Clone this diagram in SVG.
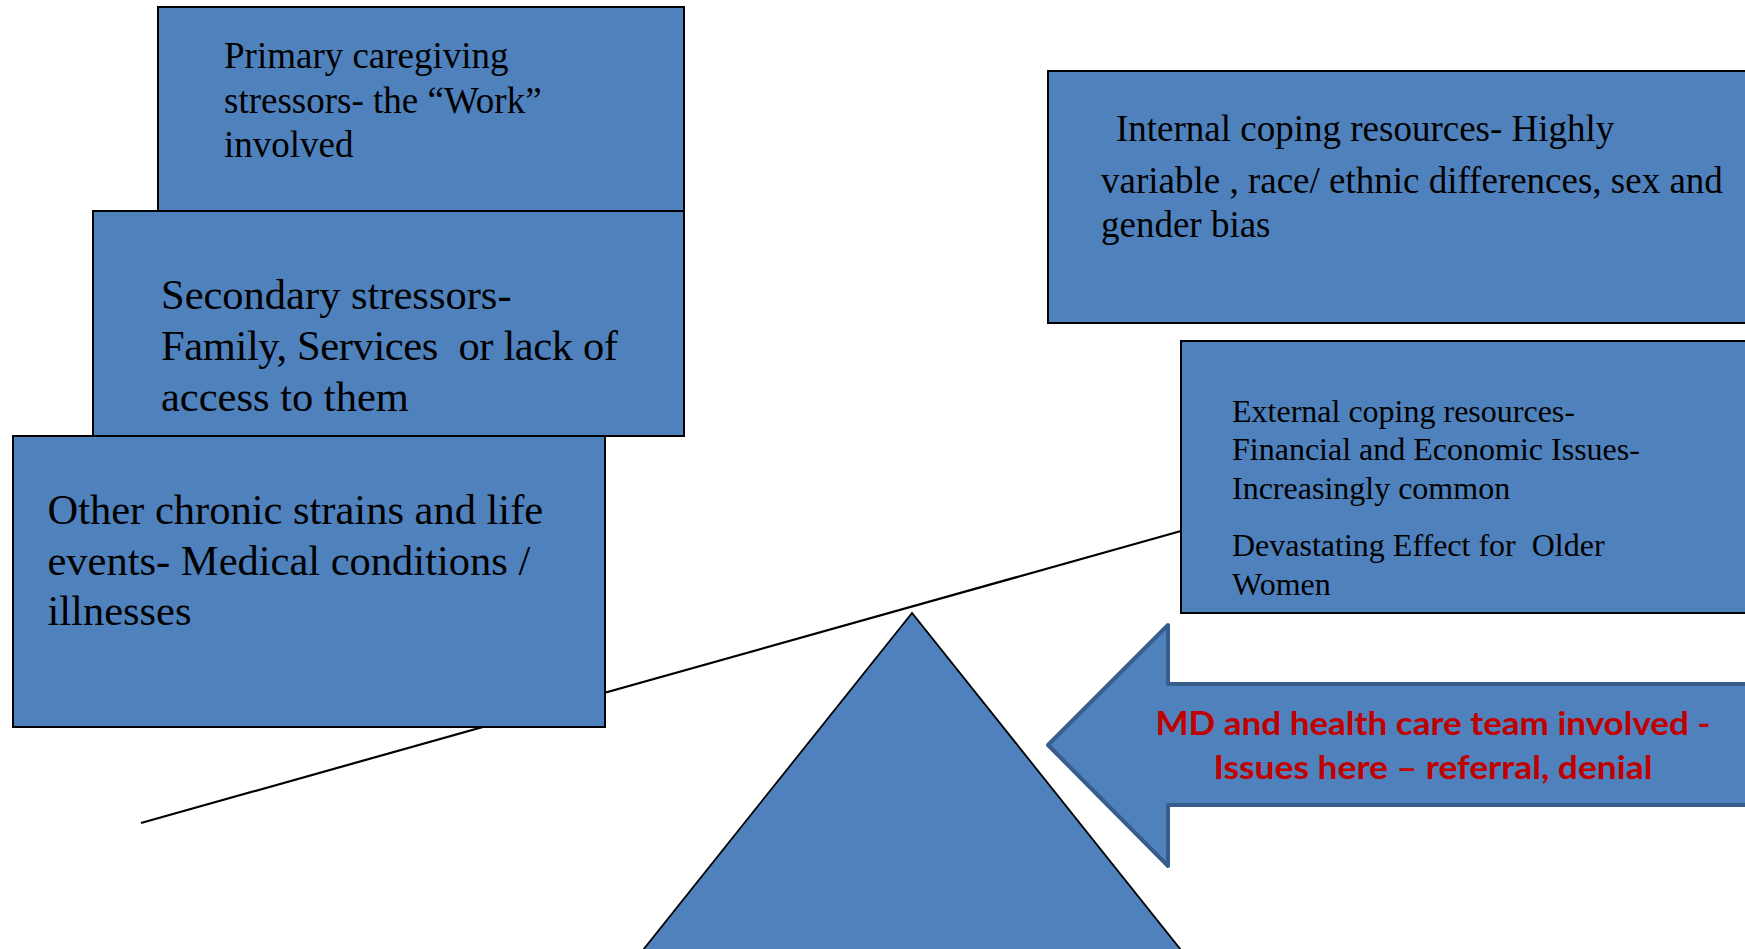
<svg xmlns="http://www.w3.org/2000/svg" width="1745" height="949" viewBox="0 0 1745 949">
<style>
.box{fill:#4F81BD;stroke:#000;stroke-width:2}
.t{font-family:"Liberation Serif","Times New Roman",serif;fill:#000;white-space:pre}
.red{font-family:Lato,"Liberation Sans",sans-serif;font-weight:bold;fill:#C00000;font-size:33px}
</style>
<rect width="1745" height="949" fill="#fff"/>
<g id="connectors">
<line x1="141" y1="823" x2="1181" y2="531" stroke="#000" stroke-width="2.2"/>
</g>
<g id="primary">
<rect class="box" x="158" y="7" width="526" height="204"/>
<text class="t" font-size="37"><tspan x="224" y="68">Primary caregiving</tspan><tspan x="224" y="112.5">stressors- the “Work”</tspan><tspan x="224" y="157">involved</tspan></text>
</g>
<g id="secondary">
<rect class="box" x="93" y="211" width="591" height="225"/>
<text class="t" font-size="42.5" xml:space="preserve"><tspan x="161" y="309">Secondary stressors-</tspan><tspan x="161" y="360" textLength="457" lengthAdjust="spacing">Family, Services  or lack of</tspan><tspan x="161" y="411">access to them</tspan></text>
</g>
<g id="other">
<rect class="box" x="13" y="436" width="592" height="291"/>
<text class="t" font-size="42.5"><tspan x="47.5" y="524">Other chronic strains and life</tspan><tspan x="47.5" y="575">events- Medical conditions /</tspan><tspan x="47.5" y="625">illnesses</tspan></text>
</g>
<g id="internal">
<rect class="box" x="1048" y="71" width="710" height="252"/>
<text class="t" font-size="37"><tspan x="1116" y="141">Internal coping resources- Highly</tspan><tspan x="1101" y="193">variable , race/ ethnic differences, sex and</tspan><tspan x="1101" y="237">gender bias</tspan></text>
</g>
<g id="external">
<rect class="box" x="1181" y="341" width="580" height="272"/>
<text class="t" font-size="32" xml:space="preserve"><tspan x="1232" y="421.5">External coping resources-</tspan><tspan x="1232" y="460">Financial and Economic Issues-</tspan><tspan x="1232" y="498.5">Increasingly common</tspan><tspan x="1232" y="556">Devastating Effect for  Older</tspan><tspan x="1232" y="594.5">Women</tspan></text>
</g>
<g id="fulcrum">
<polygon points="912,613 643,950 1181,950" fill="#4F81BD" stroke="#000" stroke-width="1.8"/>
</g>
<g id="md-arrow">
<polygon points="1048,745 1168,625 1168,684 1760,684 1760,805 1168,805 1168,866" fill="#4F81BD" stroke="#385D8A" stroke-width="4" stroke-linejoin="round"/>
<text class="red" text-anchor="middle"><tspan x="1433" y="735" textLength="555" lengthAdjust="spacingAndGlyphs">MD and health care team involved -</tspan><tspan x="1433" y="779" textLength="439" lengthAdjust="spacingAndGlyphs">Issues here – referral, denial</tspan></text>
</g>
</svg>
